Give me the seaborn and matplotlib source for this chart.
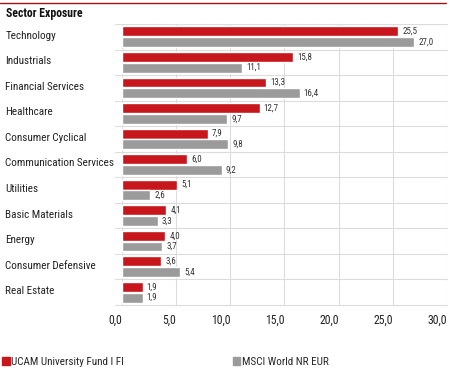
import matplotlib
matplotlib.use("Agg")
import matplotlib.pyplot as plt
import matplotlib.transforms as mtransforms
import pandas as pd
import seaborn as sns
from matplotlib.lines import Line2D
from matplotlib.patches import Patch

sectors = [
    "Technology", "Industrials", "Financial Services", "Healthcare",
    "Consumer Cyclical", "Communication Services", "Utilities",
    "Basic Materials", "Energy", "Consumer Defensive", "Real Estate",
]
fund = [25.5, 15.8, 13.3, 12.7, 7.9, 6.0, 5.1, 4.1, 4.0, 3.6, 1.9]
index = [27.0, 11.1, 16.4, 9.7, 9.8, 9.2, 2.6, 3.3, 3.7, 5.4, 1.9]
series = ["UCAM University Fund I FI", "MSCI World NR EUR"]
xticks = [0, 5, 10, 15, 20, 25, 30]

red = "#c8161d"
grey = "#9b9b9b"
grid_c = "#dcdcdc"

df = pd.DataFrame({
    "sector": sectors * 2,
    "value": fund + index,
    "series": [series[0]] * len(sectors) + [series[1]] * len(sectors),
})

sns.set_theme(style="white")
plt.rcParams["font.family"] = ["Roboto Condensed", "DejaVu Sans"]

fig = plt.figure(figsize=(4.52, 3.86), dpi=100)
ax = fig.add_axes([122 / 452, 1 - 305 / 386, 325 / 452, 281 / 386])

sns.barplot(data=df, y="sector", x="value", hue="series", order=sectors,
            hue_order=series, palette=[red, grey], orient="h",
            width=0.84, gap=0.08, saturation=1, legend=False, ax=ax)

for cont in ax.containers:
    labels = [f"{v:.1f}".replace(".", ",") for v in cont.datavalues]
    ax.bar_label(cont, labels=labels, padding=3, fontsize=6.5, color="#333333")

ax.set_xlim(0, 30)
ax.set_ylim(len(sectors) - 0.5, -0.5)
ax.set_xticks(xticks)
ax.set_xticklabels([f"{t:.1f}".replace(".", ",") for t in xticks],
                   fontsize=8.5, color="#222222", ha="right")
ax.tick_params(axis="x", length=0, pad=6)
ax.tick_params(axis="y", length=0, pad=84)
shift = mtransforms.ScaledTranslation(0, 1.5 / 72, fig.dpi_scale_trans)
for lab in ax.get_yticklabels():
    lab.set_ha("left")
    lab.set_fontsize(8)
    lab.set_color("#222222")
    lab.set_transform(lab.get_transform() + shift)
ax.set_xlabel("")
ax.set_ylabel("")

for s in ax.spines.values():
    s.set_visible(False)
ax.set_axisbelow(True)
for t in xticks:
    ax.axvline(t, color=grid_c, lw=0.8, zorder=0)
for i in range(len(sectors) + 1):
    ax.axhline(i - 0.5, xmin=-0.02, xmax=1, color=grid_c, lw=0.8,
               clip_on=False, zorder=0)

fig.add_artist(Line2D([0, 446 / 452], [1 - 3 / 386] * 2, color="#a01418", lw=1))
fig.text(6 / 452, 1 - 14 / 386, "Sector Exposure", fontsize=8.5,
         fontweight="bold", va="center", ha="left", color="#111111")

fig.legend(handles=[Patch(color=red), Patch(color=grey)], labels=series,
           loc="center left", bbox_to_anchor=(2 / 452, 1 - 362 / 386),
           ncol=2, frameon=False, fontsize=8, handlelength=0.7,
           handleheight=0.7, handletextpad=0.1, columnspacing=9.8,
           borderaxespad=0, borderpad=0)

fig.savefig("out.png", dpi=100)
